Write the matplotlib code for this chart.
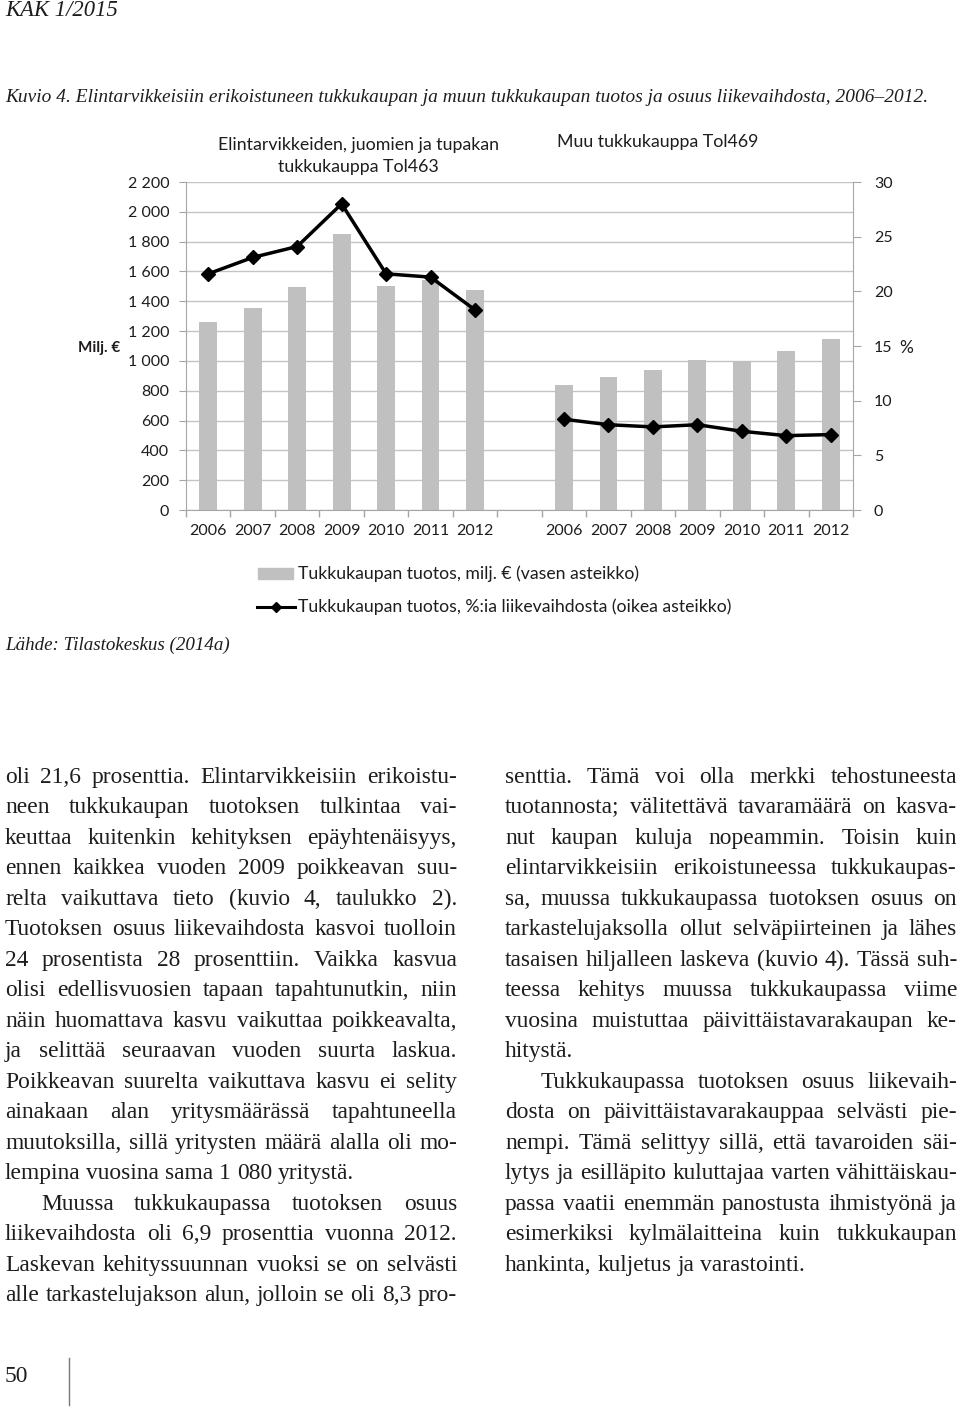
import matplotlib
matplotlib.use('Agg')
import numpy as np
import matplotlib.pyplot as plt
from matplotlib.ticker import FuncFormatter
from matplotlib.patches import Rectangle
from matplotlib.lines import Line2D
from matplotlib.font_manager import FontProperties

# chart data
years = ['2006', '2007', '2008', '2009', '2010', '2011', '2012']
tuotos_463 = [1260, 1355, 1495, 1850, 1500, 1540, 1476]   # milj. €
osuus_463 = [21.6, 23.1, 24.1, 28.0, 21.6, 21.3, 18.3]    # %
tuotos_469 = [838, 892, 939, 1006, 999, 1069, 1145]
osuus_469 = [8.3, 7.8, 7.6, 7.8, 7.2, 6.8, 6.9]

title_463 = 'Elintarvikkeiden, juomien ja tupakan\ntukkukauppa Tol463'
title_469 = 'Muu tukkukauppa Tol469'
legend_bar = 'Tukkukaupan tuotos, milj. € (vasen asteikko)'
legend_line = 'Tukkukaupan tuotos, %:ia liikevaihdosta (oikea asteikko)'

header = 'KAK 1/2015'
caption = ('Kuvio 4. Elintarvikkeisiin erikoistuneen tukkukaupan ja muun '
           'tukkukaupan tuotos ja osuus liikevaihdosta, 2006–2012.')
source = 'Lähde: Tilastokeskus (2014a)'
page_no = '50'

# body text: (line, indent, justify)
left_col = [
    ('oli 21,6 prosenttia. Elintarvikkeisiin erikoistu-', 0, 1),
    ('neen tukkukaupan tuotoksen tulkintaa vai-', 0, 1),
    ('keuttaa kuitenkin kehityksen epäyhtenäisyys,', 0, 1),
    ('ennen kaikkea vuoden 2009 poikkeavan suu-', 0, 1),
    ('relta vaikuttava tieto (kuvio 4, taulukko 2).', 0, 1),
    ('Tuotoksen osuus liikevaihdosta kasvoi tuolloin', 0, 1),
    ('24 prosentista 28 prosenttiin. Vaikka kasvua', 0, 1),
    ('olisi edellisvuosien tapaan tapahtunutkin, niin', 0, 1),
    ('näin huomattava kasvu vaikuttaa poikkeavalta,', 0, 1),
    ('ja selittää seuraavan vuoden suurta laskua.', 0, 1),
    ('Poikkeavan suurelta vaikuttava kasvu ei selity', 0, 1),
    ('ainakaan alan yritysmäärässä tapahtuneella', 0, 1),
    ('muutoksilla, sillä yritysten määrä alalla oli mo-', 0, 1),
    ('lempina vuosina sama 1 080 yritystä.', 0, 0),
    ('Muussa tukkukaupassa tuotoksen osuus', 1, 1),
    ('liikevaihdosta oli 6,9 prosenttia vuonna 2012.', 0, 1),
    ('Laskevan kehityssuunnan vuoksi se on selvästi', 0, 1),
    ('alle tarkastelujakson alun, jolloin se oli 8,3 pro-', 0, 1),
]
right_col = [
    ('senttia. Tämä voi olla merkki tehostuneesta', 0, 1),
    ('tuotannosta; välitettävä tavaramäärä on kasva-', 0, 1),
    ('nut kaupan kuluja nopeammin. Toisin kuin', 0, 1),
    ('elintarvikkeisiin erikoistuneessa tukkukaupas-', 0, 1),
    ('sa, muussa tukkukaupassa tuotoksen osuus on', 0, 1),
    ('tarkastelujaksolla ollut selväpiirteinen ja lähes', 0, 1),
    ('tasaisen hiljalleen laskeva (kuvio 4). Tässä suh-', 0, 1),
    ('teessa kehitys muussa tukkukaupassa viime', 0, 1),
    ('vuosina muistuttaa päivittäistavarakaupan ke-', 0, 1),
    ('hitystä.', 0, 0),
    ('Tukkukaupassa tuotoksen osuus liikevaih-', 1, 1),
    ('dosta on päivittäistavarakauppaa selvästi pie-', 0, 1),
    ('nempi. Tämä selittyy sillä, että tavaroiden säi-', 0, 1),
    ('lytys ja esilläpito kuluttajaa varten vähittäiskau-', 0, 1),
    ('passa vaatii enemmän panostusta ihmistyönä ja', 0, 1),
    ('esimerkiksi kylmälaitteina kuin tukkukaupan', 0, 1),
    ('hankinta, kuljetus ja varastointi.', 0, 0),
]

W, H = 960, 1408
BAR = '#c0c0c0'
AXC = '#a6a6a6'
TXT = '#1e1c1d'
SANS = 'Lato'
SERIF = 'Liberation Serif'


def fx(x):
    return x / W


def fy(y):
    return 1 - y / H


fig = plt.figure(figsize=(9.6, 14.08), dpi=100)
renderer = fig.canvas.get_renderer()


def width(s, fs, family=SERIF, style='normal'):
    fp = FontProperties(family=family, size=fs, style=style)
    return renderer.get_text_width_height_descent(s, fp, ismath=False)[0]


def fit_size(s, target, family=SERIF, style='normal'):
    return target / width(s, 10, family, style) * 10


# ---- chart ----
n = len(years)
ax = fig.add_axes([fx(186), fy(510), (853 - 186) / W, 328 / H])
xl = np.arange(n) + 0.5
xr = np.arange(n) + n + 1.5
ax.bar(xl, tuotos_463, width=0.4, color=BAR, zorder=2)
ax.bar(xr, tuotos_469, width=0.4, color=BAR, zorder=2)
ax.set_xlim(0, 2 * n + 1)
ax.set_ylim(0, 2200)
ax.set_yticks(range(0, 2201, 200))
ax.yaxis.set_major_formatter(FuncFormatter(lambda v, p: f'{int(v):,}'.replace(',', ' ')))
ax.grid(axis='y', color='#c4c4c4', lw=1)
ax.set_axisbelow(True)
ax.set_xticks(np.arange(0, 2 * n + 2))
ax.set_xticklabels([])
ax.set_xticks(np.concatenate([xl, xr]), minor=True)
ax.set_xticklabels(years + years, minor=True)
ax.tick_params(axis='x', which='major', length=5, color=AXC, width=1)
ax.tick_params(axis='x', which='minor', length=0, pad=10, labelsize=11.5, labelcolor=TXT)
ax.tick_params(axis='y', length=5, color=AXC, pad=7, labelsize=11.5, labelcolor=TXT)
for lab in ax.get_xticklabels(minor=True) + ax.get_yticklabels():
    lab.set_family(SANS)
for s in ['top', 'right']:
    ax.spines[s].set_visible(False)
for s in ['left', 'bottom']:
    ax.spines[s].set_color(AXC)

ax2 = ax.twinx()
ax2.set_ylim(0, 30)
ax2.set_yticks(range(0, 31, 5))
ax2.plot(xl, osuus_463, color='k', lw=2.5, marker='D', ms=7, zorder=3)
ax2.plot(xr, osuus_469, color='k', lw=2.5, marker='D', ms=7, zorder=3)
ax2.tick_params(axis='y', length=6, color=AXC, pad=9, labelsize=11.5, labelcolor=TXT)
for lab in ax2.get_yticklabels():
    lab.set_family(SANS)
for s in ['top', 'left', 'bottom']:
    ax2.spines[s].set_visible(False)
ax2.spines['right'].set_color(AXC)

fig.text(fx(358), fy(156), title_463, ha='center', va='center', fontsize=12.8,
         family=SANS, color=TXT, linespacing=1.4)
fig.text(fx(658), fy(142), title_469, ha='center', va='center', fontsize=12.8,
         family=SANS, color=TXT)
fig.text(fx(99), fy(348), 'Milj. €', ha='center', va='center', fontsize=11,
         family=SANS, weight='bold', color=TXT)
fig.text(fx(906), fy(348), '%', ha='center', va='center', fontsize=12.5,
         family=SANS, color=TXT)

# legend
fig.patches.append(Rectangle((fx(258), fy(579)), 35 / W, 11 / H, color=BAR,
                             transform=fig.transFigure))
fig.lines.append(Line2D([fx(257), fx(295)], [fy(607), fy(607)], color='k', lw=2.2,
                        transform=fig.transFigure))
fig.lines.append(Line2D([fx(276)], [fy(607)], color='k', marker='D', ms=5,
                        transform=fig.transFigure))
fig.text(fx(298), fy(574), legend_bar, va='center', fontsize=12.7, family=SANS, color=TXT)
fig.text(fx(298), fy(607), legend_line, va='center', fontsize=12.7, family=SANS, color=TXT)

# ---- page text ----
fig.text(fx(5), fy(10), header, va='center', style='italic', family=SERIF, color=TXT,
         fontsize=fit_size(header, 113, style='italic'))
fig.text(fx(5), fy(97), caption, va='center', style='italic', family=SERIF, color=TXT,
         fontsize=fit_size(caption, 922, style='italic'))
fig.text(fx(5), fy(645), source, va='center', style='italic', family=SERIF, color=TXT,
         fontsize=fit_size(source, 225, style='italic'))

col_w = 452
indent = 36
natural = []
for line, ind, just in left_col + right_col:
    words = line.split(' ')
    w = sum(width(t, 10) for t in words) + (len(words) - 1) * width(' ', 10)
    natural.append(w / (col_w - ind * indent))
fs = 10 / max(natural)
space = width(' ', fs)


def draw_column(lines, x0, y0, step):
    for i, (line, ind, just) in enumerate(lines):
        words = line.split(' ')
        ws = [width(t, fs) for t in words]
        xs = x0 + ind * indent
        if just and len(words) > 1:
            gap = (x0 + col_w - xs - sum(ws)) / (len(words) - 1)
        else:
            gap = space
        # whole-pixel baseline keeps every word of a line on the same row
        yb = int(y0 + i * step)
        x = xs
        for t, w in zip(words, ws):
            fig.text(fx(x), fy(yb), t, va='baseline', fontsize=fs, family=SERIF, color=TXT)
            x += w + gap


draw_column(left_col, 5, 783, 30.5)
draw_column(right_col, 505, 783, 30.5)

fig.text(fx(5), fy(1382), page_no, va='baseline', fontsize=fs, family=SERIF, color=TXT)
fig.lines.append(Line2D([fx(69), fx(69)], [fy(1358), fy(1405)], color='#777777', lw=1,
                        transform=fig.transFigure))

fig.savefig('out.png', dpi=100)
